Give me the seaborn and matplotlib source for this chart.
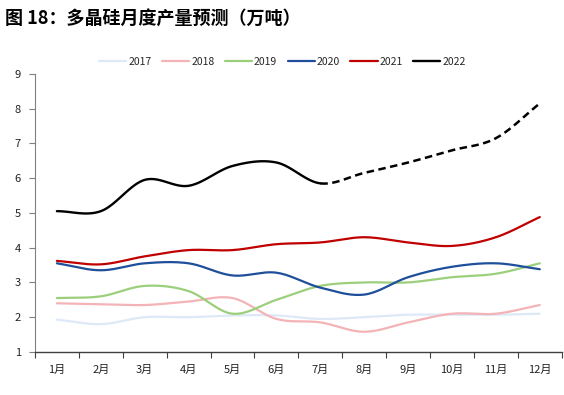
import numpy as np
import pandas as pd
import matplotlib
matplotlib.use('Agg')
import matplotlib.pyplot as plt
import seaborn as sns

months = ['1月', '2月', '3月', '4月', '5月', '6月', '7月', '8月', '9月', '10月', '11月', '12月']
y2017 = [1.93, 1.80, 2.00, 2.00, 2.05, 2.05, 1.95, 2.00, 2.07, 2.07, 2.07, 2.10]
y2018 = [2.40, 2.37, 2.35, 2.45, 2.55, 1.95, 1.85, 1.58, 1.85, 2.10, 2.10, 2.35]
y2019 = [2.55, 2.60, 2.90, 2.75, 2.10, 2.50, 2.90, 3.00, 3.00, 3.15, 3.25, 3.55]
y2020 = [3.55, 3.35, 3.55, 3.55, 3.20, 3.28, 2.85, 2.65, 3.15, 3.45, 3.55, 3.38]
y2021 = [3.62, 3.52, 3.75, 3.93, 3.93, 4.10, 4.15, 4.30, 4.15, 4.05, 4.30, 4.88]
y2022 = [5.05, 5.05, 5.95, 5.78, 6.35, 6.45, 5.85, 6.15, 6.45, 6.80, 7.15, 8.15]
forecast_from = 6  # 7月 onward is forecast (dashed)

series = {'2017': y2017, '2018': y2018, '2019': y2019,
          '2020': y2020, '2021': y2021, '2022': y2022}
colors = {'2017': '#dde9f7', '2018': '#f4b3b6', '2019': '#9ccf7c',
          '2020': '#1f4e9a', '2021': '#c00000', '2022': '#000000'}


def smooth(vals, n=20):
    # Catmull-Rom curve through the points, like Excel's smoothed line
    p = np.asarray(vals, dtype=float)
    p = np.concatenate([[2 * p[0] - p[1]], p, [2 * p[-1] - p[-2]]])
    xs, ys = [], []
    for i in range(1, len(p) - 2):
        t = np.linspace(0, 1, n, endpoint=False)
        p0, p1, p2, p3 = p[i - 1], p[i], p[i + 1], p[i + 2]
        yy = 0.5 * (2 * p1 + (-p0 + p2) * t + (2 * p0 - 5 * p1 + 4 * p2 - p3) * t ** 2
                    + (-p0 + 3 * p1 - 3 * p2 + p3) * t ** 3)
        xs.extend(i - 1 + t)
        ys.extend(yy)
    xs.append(len(vals) - 1)
    ys.append(vals[-1])
    return np.array(xs), np.array(ys)


sns.set_style('white')
plt.rcParams['font.family'] = ['Noto Sans CJK SC', 'DejaVu Sans']

fig = plt.figure(figsize=(5.64, 3.95), dpi=100)
ax = fig.add_axes([0.062, 0.109, 0.934, 0.704])

for name, vals in series.items():
    xs, ys = smooth(vals)
    if name == '2022':
        solid = xs <= forecast_from
        sns.lineplot(x=xs[solid], y=ys[solid], ax=ax, color=colors[name], lw=1.7,
                     label=name, sort=False)
        dash = xs >= forecast_from
        ax.plot(xs[dash], ys[dash], color=colors[name], lw=1.8, ls=(0, (3, 1.8)))
    else:
        sns.lineplot(x=xs, y=ys, ax=ax, color=colors[name], lw=1.6,
                     label=name, sort=False)

ax.set_xlim(-0.5, 11.5)
ax.set_ylim(1, 9)
ax.set_yticks(range(1, 10))
ax.set_xticks(np.arange(-0.5, 12, 1))
ax.set_xticklabels([])
ax.set_xticks(range(12), minor=True)
ax.set_xticklabels(months, minor=True)
ax.tick_params(axis='x', which='major', direction='out', length=4, width=0.8,
               color='#404040', bottom=True)
ax.tick_params(axis='x', which='minor', length=0, pad=9, labelsize=8, labelcolor='#222222')
ax.tick_params(axis='y', direction='out', length=4, width=0.8, color='#808080',
               left=True, labelsize=8, labelcolor='#222222', pad=6)
ax.set_xlabel('')
ax.set_ylabel('')
for s in ['top', 'right']:
    ax.spines[s].set_visible(False)
ax.spines['left'].set_color('#808080')
ax.spines['bottom'].set_color('#404040')
ax.spines['left'].set_linewidth(0.8)
ax.spines['bottom'].set_linewidth(1.0)

ax.legend(loc='lower center', bbox_to_anchor=(0.47, 1.0), ncol=6, frameon=False,
          fontsize=7.5, handlelength=2.6, handletextpad=0.2, columnspacing=1.0,
          borderaxespad=0.3)

fig.text(0.008, 0.955, '图 18：多晶硅月度产量预测（万吨）', fontsize=13, fontweight='bold',
         va='center', ha='left', color='#000000')

fig.savefig('out.png', dpi=100)
